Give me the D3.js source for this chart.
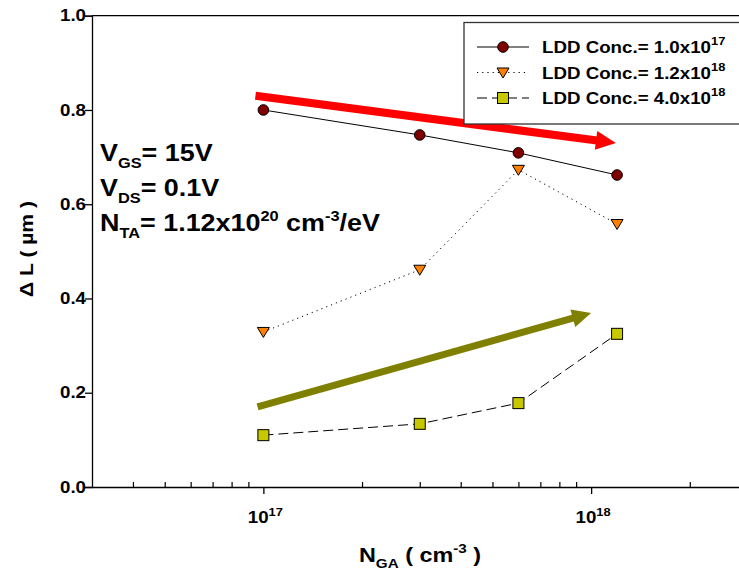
<!DOCTYPE html>
<html>
<head>
<meta charset="utf-8">
<script src="https://cdn.jsdelivr.net/npm/d3@7/dist/d3.min.js"></script>
<style>
  html, body { margin: 0; padding: 0; background: #fff; }
  svg { display: block; }
  text { font-family: "Liberation Sans", Arial, Helvetica, sans-serif; font-weight: bold; fill: #000; }
</style>
</head>
<body>
<svg id="chart" width="739" height="574"></svg>
<script>
// Gate doping concentrations (cm^-3)
const ngaValues = [1e17, 3e17, 6e17, 1.2e18];

// ΔL (µm) for each LDD concentration
const lddLow  = [0.800, 0.747, 0.709, 0.662];   // LDD 1.0x10^17
const lddMid  = [0.329, 0.461, 0.673, 0.558];   // LDD 1.2x10^18
const lddHigh = [0.110, 0.134, 0.178, 0.325];   // LDD 4.0x10^18

const seriesNames = ["1.0x10", "1.2x10", "4.0x10"];
const seriesExps  = ["17", "18", "18"];

const yTicks = [0, 0.2, 0.4, 0.6, 0.8, 1.0];
const xMajorTicks = [1e17, 1e18];
const xMinorTicks = [4e16, 5e16, 6e16, 7e16, 8e16, 9e16,
                     2e17, 3e17, 4e17, 5e17, 6e17, 7e17, 8e17, 9e17, 2e18];

// Trend arrows, in data units: [x0, y0, x1, y1]
const trendDown = [9.46e16, 0.830, 1.19e18, 0.730];
const trendUp   = [9.6e16, 0.170, 1.0e18, 0.369];

// the typeface is drawn slightly widened
const SX = 1.17;

const svg = d3.select("#chart");

const x = d3.scaleLog().domain([3e16, 3e18]).range([92, 747.5]);
const y = d3.scaleLinear().domain([0, 1]).range([487, 15.7]);

function label(parent, px, py, size, anchor, rotate) {
  return parent.append("text")
    .attr("transform", `translate(${px},${py})` + (rotate ? ` rotate(${rotate})` : "") + ` scale(${SX},1)`)
    .attr("text-anchor", anchor || "start")
    .style("font-size", size + "px");
}

// top frame line
svg.append("line")
  .attr("x1", x.range()[0]).attr("x2", 739)
  .attr("y1", y(1)).attr("y2", y(1))
  .attr("stroke", "#000").attr("stroke-width", 1.3);

// y axis
const yAxis = svg.append("g")
  .attr("transform", `translate(${x.range()[0]},0)`)
  .call(d3.axisLeft(y).tickValues(yTicks).tickFormat(d3.format(".1f")).tickSize(7).tickPadding(6));
yAxis.select(".domain").attr("stroke-width", 1.3);
yAxis.selectAll(".tick line").attr("stroke-width", 1.3);
yAxis.selectAll("text")
  .style("font-size", "16px").style("font-weight", "bold")
  .attr("x", -6 / SX)
  .attr("transform", `scale(${SX},1)`);

// x axis: major ticks outward, minor ticks inward
const xAxis = svg.append("g")
  .attr("transform", `translate(0,${y(0)})`)
  .call(d3.axisBottom(x).tickValues(xMajorTicks).tickFormat("").tickSize(7).tickSizeOuter(0));
xAxis.select(".domain").attr("stroke-width", 1.3);
xAxis.selectAll(".tick line").attr("stroke-width", 1.3);

const xMinor = svg.append("g")
  .attr("transform", `translate(0,${y(0)})`)
  .call(d3.axisTop(x).tickValues(xMinorTicks).tickFormat("").tickSize(5).tickSizeOuter(0));
xMinor.select(".domain").remove();
xMinor.selectAll(".tick line").attr("stroke-width", 1.2);

// x tick labels 10^n
xMajorTicks.forEach(v => {
  const t = label(svg, x(v) + 2, 523, 16, "middle");
  t.append("tspan").text("10");
  t.append("tspan").attr("dy", -7).style("font-size", "11px").text(String(Math.round(Math.log10(v))));
});

// axis titles
label(svg, 33, 249, 18, "middle", -90).text("Δ L ( µm )");

const xTitle = label(svg, 420, 562, 20, "middle");
xTitle.append("tspan").text("N");
xTitle.append("tspan").attr("dy", 6).style("font-size", "13px").text("GA");
xTitle.append("tspan").attr("dy", -6).text(" ( cm");
xTitle.append("tspan").attr("dy", -9).style("font-size", "13px").text("-3");
xTitle.append("tspan").attr("dy", 9).text(" )");

// condition annotations
function subLine(yPos, main, sub, rest) {
  const t = label(svg, 100, yPos, 23, "start");
  t.append("tspan").text(main);
  t.append("tspan").attr("dy", 7).style("font-size", "14px").text(sub);
  t.append("tspan").attr("dy", -7).text(rest);
  return t;
}
subLine(161, "V", "GS", "= 15V");
subLine(196, "V", "DS", "= 0.1V");
const nta = subLine(231, "N", "TA", "= 1.12x10");
nta.append("tspan").attr("dy", -10).style("font-size", "14px").text("20");
nta.append("tspan").attr("dy", 10).text(" cm");
nta.append("tspan").attr("dy", -10).style("font-size", "14px").text("-3");
nta.append("tspan").attr("dy", 10).text("/eV");

// trend arrows
function arrow(seg, color, width, headLen, headHalf) {
  const x0 = x(seg[0]), y0 = y(seg[1]), x1 = x(seg[2]), y1 = y(seg[3]);
  const ang = Math.atan2(y1 - y0, x1 - x0);
  const bx = x1 - headLen * Math.cos(ang), by = y1 - headLen * Math.sin(ang);
  svg.append("line")
    .attr("x1", x0).attr("y1", y0).attr("x2", bx + Math.cos(ang)).attr("y2", by + Math.sin(ang))
    .attr("stroke", color).attr("stroke-width", width);
  const px = -Math.sin(ang), py = Math.cos(ang);
  svg.append("path")
    .attr("d", `M${x1},${y1}L${bx + px * headHalf},${by + py * headHalf}L${bx - px * headHalf},${by - py * headHalf}Z`)
    .attr("fill", color);
}
arrow(trendDown, "#ff0000", 8, 20, 9.5);
arrow(trendUp, "#808000", 7, 19, 9);

// series
const series = [
  { values: lddLow,  dash: null,    shape: "circle",   fill: "#800000" },
  { values: lddMid,  dash: "1.2,4", shape: "triangle", fill: "#ff8000" },
  { values: lddHigh, dash: "10,5",  shape: "square",   fill: "#c8c800" }
];

const line = d3.line().x(d => x(d[0])).y(d => y(d[1]));

function drawMarker(g, shape, fill, cx, cy) {
  if (shape === "circle") {
    g.append("circle").attr("cx", cx).attr("cy", cy).attr("r", 5.3)
      .attr("fill", fill).attr("stroke", "#000").attr("stroke-width", 1);
  } else if (shape === "triangle") {
    g.append("path")
      .attr("d", `M${cx - 6},${cy - 4.5}L${cx + 6},${cy - 4.5}L${cx},${cy + 5.5}Z`)
      .attr("fill", fill).attr("stroke", "#000").attr("stroke-width", 1);
  } else {
    g.append("rect").attr("x", cx - 5.5).attr("y", cy - 5.5).attr("width", 11).attr("height", 11)
      .attr("fill", fill).attr("stroke", "#000").attr("stroke-width", 1);
  }
}

series.forEach(s => {
  const pts = ngaValues.map((v, i) => [v, s.values[i]]);
  svg.append("path").datum(pts)
    .attr("d", line)
    .attr("fill", "none").attr("stroke", "#000").attr("stroke-width", 1)
    .attr("stroke-dasharray", s.dash);
  const g = svg.append("g");
  pts.forEach(p => drawMarker(g, s.shape, s.fill, x(p[0]), y(p[1])));
});

// legend
const legend = svg.append("g");
legend.append("rect")
  .attr("x", 464).attr("y", 22.5).attr("width", 300).attr("height", 101.5)
  .attr("fill", "#fff").attr("stroke", "#333").attr("stroke-width", 1.3);
series.forEach((s, i) => {
  const cy = 47 + i * 25.5;
  legend.append("line")
    .attr("x1", 477).attr("x2", 529).attr("y1", cy).attr("y2", cy)
    .attr("stroke", "#000").attr("stroke-width", 1)
    .attr("stroke-dasharray", s.dash);
  drawMarker(legend, s.shape, s.fill, 503, cy);
  const t = label(legend, 542, cy + 6, 16, "start");
  t.append("tspan").text("LDD Conc.= " + seriesNames[i]);
  t.append("tspan").attr("dy", -8).style("font-size", "11px").text(seriesExps[i]);
});
</script>
</body>
</html>
